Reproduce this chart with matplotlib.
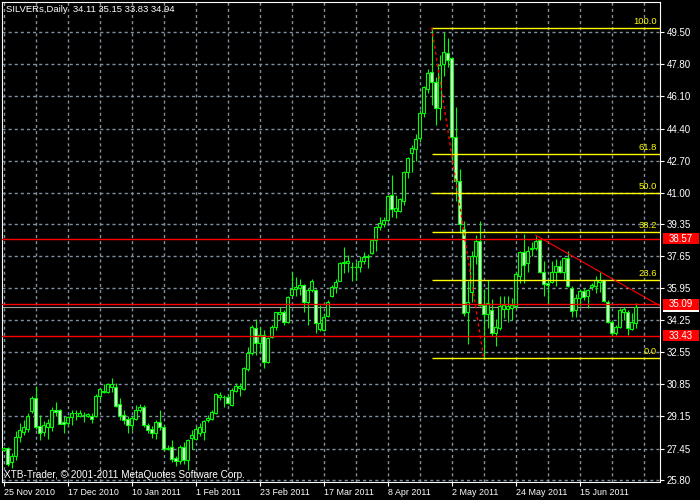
import numpy as np
import pandas as pd
import matplotlib
matplotlib.use("Agg")
import matplotlib.pyplot as plt
import matplotlib.transforms as mtransforms
from matplotlib.patches import Rectangle

# daily silver bars, 25 Nov 2010 onwards (business days)
opens = [27.38, 27.50, 26.74, 27.08, 28.05, 28.33, 28.49, 29.45, 30.11, 28.67,
         28.33, 28.60, 28.57, 29.52, 29.48, 28.85, 28.80, 29.13, 29.31, 29.20,
         29.22, 29.20, 29.20, 29.17, 30.23, 30.45, 30.43, 30.69, 30.69, 29.80,
         29.24, 29.02, 28.72, 29.02, 29.49, 29.63, 28.69, 28.47, 28.25, 28.85,
         28.60, 27.45, 27.54, 26.97, 26.79, 27.56, 26.83, 28.03, 27.98, 28.28,
         28.33, 28.95, 29.04, 29.35, 30.16, 30.19, 30.16, 29.75, 30.51, 30.67,
         30.62, 31.68, 32.53, 33.83, 33.06, 33.47, 32.05, 33.35, 33.91, 34.59,
         34.66, 34.18, 35.60, 35.90, 35.95, 36.11, 35.24, 35.86, 35.83, 33.77,
         33.72, 34.45, 35.55, 35.99, 36.34, 37.30, 37.26, 37.07, 37.05, 37.05,
         37.37, 37.58, 37.79, 38.50, 39.18, 39.35, 39.55, 40.89, 40.03, 40.03,
         40.59, 42.10, 43.11, 43.34, 43.90, 45.20, 46.52, 47.41, 46.88, 45.50,
         47.80, 48.39, 48.12, 43.96, 41.60, 39.09, 34.70, 35.76, 37.67, 38.47,
         35.05, 34.57, 34.80, 33.56, 33.86, 34.87, 34.87, 34.92, 34.98, 36.57,
         37.85, 37.30, 38.00, 38.10, 38.52, 36.78, 36.22, 36.30, 36.78, 37.14,
         36.78, 37.54, 35.95, 34.80, 35.42, 35.81, 35.51, 36.00, 36.04, 36.30,
         36.36, 35.24, 34.18, 33.56, 33.88, 34.71, 34.71, 33.79, 34.11]
highs = [27.52, 27.52, 27.24, 28.39, 28.78, 28.99, 29.36, 30.23, 30.76, 29.22,
         28.92, 29.01, 29.66, 29.91, 29.54, 29.17, 29.15, 29.49, 29.49, 29.49,
         29.40, 29.36, 29.34, 30.32, 30.64, 30.85, 30.94, 31.20, 30.90, 30.11,
         29.52, 29.17, 29.17, 29.75, 29.80, 29.75, 28.81, 28.63, 28.99, 29.49,
         28.72, 27.63, 27.89, 27.04, 27.66, 27.80, 27.98, 28.42, 28.63, 28.78,
         28.99, 29.22, 29.49, 30.37, 30.46, 30.28, 30.28, 30.64, 30.94, 30.92,
         31.78, 32.81, 34.00, 34.32, 33.91, 33.74, 33.35, 34.00, 34.71, 34.94,
         34.80, 35.54, 36.80, 36.53, 36.43, 36.18, 35.95, 36.43, 35.90, 35.05,
         34.61, 35.31, 36.13, 36.43, 37.35, 38.11, 37.72, 37.32, 37.32, 37.67,
         37.88, 37.76, 38.55, 39.26, 39.71, 39.74, 40.86, 41.92, 40.86, 40.74,
         42.13, 42.89, 43.51, 44.13, 45.37, 46.67, 47.55, 49.75, 47.14, 48.30,
         49.50, 49.18, 48.21, 45.55, 42.27, 39.53, 36.34, 37.93, 38.77, 39.48,
         35.90, 36.39, 35.37, 34.30, 35.51, 35.55, 35.55, 35.40, 36.78, 37.94,
         38.82, 38.17, 38.38, 38.73, 38.55, 37.37, 36.39, 37.37, 37.49, 37.46,
         37.60, 37.90, 36.04, 35.65, 35.90, 35.95, 35.90, 36.22, 36.57, 36.78,
         36.39, 35.33, 34.27, 34.00, 34.89, 34.94, 34.80, 34.62, 35.15]
lows = [27.36, 26.51, 26.44, 26.83, 27.80, 28.16, 28.33, 29.31, 28.51, 27.93,
        28.10, 27.95, 28.39, 29.17, 28.74, 28.28, 28.71, 28.69, 28.99, 29.10,
        28.87, 29.13, 28.78, 29.13, 30.02, 30.37, 30.37, 30.46, 29.66, 28.95,
        28.74, 28.28, 28.46, 28.95, 29.40, 28.60, 28.25, 28.03, 27.98, 28.42,
        27.36, 27.36, 26.74, 26.51, 26.65, 26.65, 26.33, 27.45, 27.89, 28.10,
        27.89, 28.87, 28.95, 29.28, 30.02, 29.63, 29.81, 29.70, 30.46, 30.23,
        30.55, 31.57, 32.39, 32.41, 32.58, 31.70, 32.00, 33.29, 33.74, 34.27,
        34.00, 34.09, 35.51, 35.51, 35.60, 34.66, 34.00, 35.77, 33.56, 33.69,
        33.69, 34.40, 35.49, 35.67, 36.31, 36.73, 36.78, 36.34, 36.38, 36.78,
        37.23, 37.00, 37.76, 37.94, 39.03, 39.18, 39.44, 39.71, 39.67, 39.99,
        40.33, 41.80, 42.10, 42.68, 43.69, 45.02, 46.30, 45.64, 44.61, 44.84,
        47.20, 47.68, 42.63, 40.54, 38.87, 34.48, 32.98, 35.19, 37.23, 34.98,
        32.25, 33.86, 33.42, 32.89, 33.74, 34.36, 34.13, 34.27, 34.87, 36.22,
        36.22, 36.82, 37.67, 37.99, 36.75, 35.51, 35.12, 36.22, 36.07, 36.75,
        36.39, 36.00, 34.44, 34.41, 34.98, 35.33, 34.89, 35.86, 35.69, 35.77,
        35.24, 34.09, 33.47, 33.47, 33.83, 34.27, 33.47, 33.74, 33.83]
closes = [27.50, 26.65, 27.08, 28.09, 28.41, 28.57, 29.20, 30.11, 28.60, 28.28,
          28.72, 28.80, 29.52, 29.40, 28.76, 28.76, 29.11, 29.33, 29.33, 29.34,
          29.22, 29.29, 29.03, 30.23, 30.58, 30.50, 30.85, 30.85, 29.70, 29.17,
          28.95, 28.72, 29.08, 29.49, 29.63, 28.69, 28.42, 28.25, 28.85, 28.60,
          27.45, 27.47, 26.92, 26.79, 27.56, 26.86, 27.89, 28.16, 28.51, 28.60,
          28.92, 29.08, 29.40, 30.34, 30.28, 30.19, 29.88, 30.55, 30.78, 30.76,
          31.73, 32.50, 33.88, 33.03, 33.47, 32.05, 33.29, 33.91, 34.66, 34.71,
          34.18, 35.47, 35.90, 36.00, 36.11, 35.24, 35.86, 36.32, 34.08, 34.08,
          34.43, 35.19, 36.02, 36.29, 37.28, 37.32, 37.40, 37.07, 37.07, 37.40,
          37.62, 37.67, 38.50, 39.21, 39.41, 39.58, 40.81, 40.15, 40.17, 40.68,
          42.10, 42.86, 43.36, 43.87, 45.23, 46.61, 47.32, 46.88, 45.50, 47.76,
          48.44, 48.03, 43.96, 41.60, 39.35, 34.62, 35.23, 37.67, 38.47, 35.05,
          34.57, 35.16, 33.56, 33.90, 35.01, 35.05, 35.01, 35.05, 36.70, 37.88,
          37.17, 37.94, 38.08, 38.45, 36.78, 36.18, 36.13, 36.78, 37.14, 36.78,
          37.54, 36.07, 34.75, 35.42, 35.81, 35.47, 35.83, 36.13, 36.36, 36.36,
          35.29, 34.18, 33.56, 33.91, 34.80, 34.84, 33.83, 34.18, 34.94]

dates = pd.bdate_range("2010-11-25", periods=len(opens))

price_ticks = ["49.50", "47.80", "46.10", "44.40", "42.70", "41.00", "39.35", "37.65",
               "35.95", "34.25", "32.55", "30.85", "29.15", "27.45", "25.80"]

fib_levels = [0.0, 23.6, 38.2, 50.0, 61.8, 100.0]
fib_start, fib_end = 107, 120
fib_high, fib_low = 49.75, 32.25

red_levels = [38.57, 35.09, 33.43]
bid = 34.94
trend_x = [133, 164.08]
trend_y = [38.75, 35.01]

title = "SILVERs,Daily  34.11 35.15 33.83 34.94"
credit = "XTB-Trader, \u00a9 2001-2011 MetaQuotes Software Corp."

plt.rcParams['font.family'] = ['Liberation Sans', 'DejaVu Sans']
plt.rcParams['lines.scale_dashes'] = False

W, H = 700, 500
fig = plt.figure(figsize=(7, 5), dpi=100, facecolor='black')
ax = fig.add_axes([2 / W, 18 / H, 658 / W, 480 / H], facecolor='black')

o = np.array(opens); h = np.array(highs); l = np.array(lows); c = np.array(closes)
x = np.arange(len(o))
xmax = 164.08
ax.set_xlim(-0.425, xmax)
ax.set_ylim(25.68, 51.105)

grid_col = '#8090a0'
for v in np.arange(0, 165, 8):
    ax.axvline(v, color=grid_col, lw=1, ls=(0, (2.2, 2.2)), zorder=0)
for t in price_ticks:
    ax.axhline(float(t), color=grid_col, lw=1, ls=(0, (2.2, 2.2)), zorder=0)

# candles
ax.vlines(x, l, h, color='#00ff00', lw=0.8, zorder=3)
bull = c >= o
ax.bar(x, c - o, bottom=o, width=0.6, color=np.where(bull, 'black', 'white'),
       edgecolor='#00ff00', linewidth=0.8, zorder=4)

# red levels and bid line
for lv in red_levels:
    ax.axhline(lv, color='red', lw=1, zorder=5)
ax.axhline(bid, color='#a0a0a0', lw=0.8, zorder=2)

# fibonacci
rng = fib_high - fib_low
for lev in fib_levels:
    p = fib_low + rng * lev / 100
    ax.hlines(p, fib_start, xmax, color='yellow', lw=1, zorder=5)
    ax.text(xmax - 0.7, p + 0.08, "%.1f" % lev, color='yellow', fontsize=6.8,
            ha='right', va='bottom', zorder=6)
ax.plot([fib_start, fib_end], [fib_high, fib_low], color='red', lw=1,
        ls=(0, (2.2, 2.2)), zorder=6)

# trend line
ax.plot(trend_x, trend_y, color='red', lw=0.8, zorder=6)

# axes styling
for s in ax.spines.values():
    s.set_color('white')
ax.yaxis.tick_right()
ax.set_yticks([float(t) for t in price_ticks], price_ticks)
ax.tick_params(axis='y', colors='white', length=3, pad=2, labelsize=7)

xt = list(range(0, len(o), 16))
ax.set_xticks(xt, [dates[i].strftime("%-d %b %Y") for i in xt])
ax.tick_params(axis='x', colors='white', length=3, pad=1.5, labelsize=6.4)
for lab in ax.get_xticklabels():
    lab.set_ha('left')

# price boxes on the right scale (bid box sits mostly behind the 35.09 box)
trans = mtransforms.blended_transform_factory(ax.transAxes, ax.transData)
box_h = 0.56
ax.add_patch(Rectangle((1.0046, bid - box_h / 2), 0.0547, box_h, transform=trans,
                       facecolor='white', edgecolor='none', clip_on=False, zorder=7))
for lv in red_levels:
    ax.add_patch(Rectangle((1.0046, lv - box_h / 2), 0.0547, box_h, transform=trans,
                           facecolor='red', edgecolor='none', clip_on=False, zorder=9))
    ax.text(1.031, lv, "%.2f" % lv, transform=trans, color='white', fontsize=7,
            ha='center', va='center', clip_on=False, zorder=10)

fig.text(6 / W, 1 - 10 / H, title, color='white', fontsize=6.8, ha='left', va='center')
fig.text(4 / W, 1 - 475 / H, credit, color='white', fontsize=7.2, ha='left', va='center')

fig.savefig("out.png", dpi=100, facecolor='black')
